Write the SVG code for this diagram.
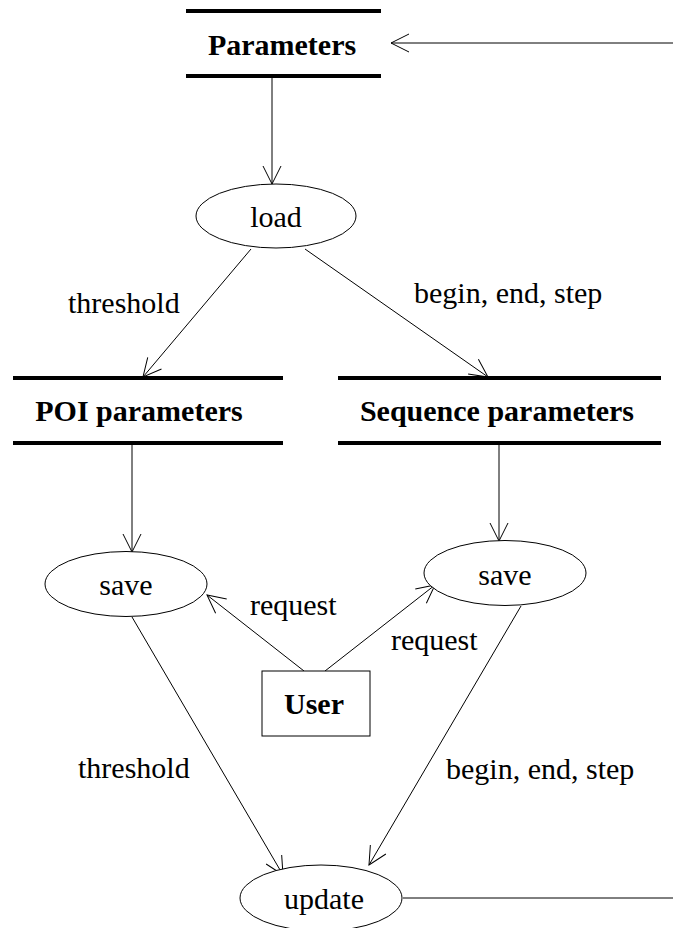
<svg xmlns="http://www.w3.org/2000/svg" width="673" height="928" viewBox="0 0 673 928">
<style>
text{font-family:"Liberation Serif","Times New Roman",serif;font-size:30px;fill:#000}
.b{font-weight:bold}
.m{text-anchor:middle}
.store{stroke:#000;stroke-width:4;fill:none}
.proc{fill:#fff;stroke:#000;stroke-width:1}
.c line,.c path{stroke:#000;stroke-width:1;fill:none}
.arr{marker-end:url(#ah)}
</style>
<defs>
<marker id="ah" markerUnits="userSpaceOnUse" markerWidth="20" markerHeight="20" refX="18" refY="10" orient="auto" overflow="visible">
<path d="M0,1 L18,10 L0,19" fill="none" stroke="#000" stroke-width="1"/>
</marker>
</defs>
<rect width="673" height="928" fill="#fff"/>
<g class="c" id="connectors">
<line class="arr" x1="673" y1="43" x2="391" y2="43"/>
<line class="arr" x1="272" y1="78" x2="272" y2="184"/>
<line class="arr" x1="251" y1="249" x2="143" y2="377"/>
<line class="arr" x1="305" y1="249" x2="488" y2="377"/>
<line class="arr" x1="132" y1="445" x2="132" y2="552"/>
<line class="arr" x1="499" y1="445" x2="499" y2="541"/>
<line class="arr" x1="304" y1="671" x2="207" y2="595"/>
<line class="arr" x1="325" y1="671" x2="435" y2="585"/>
<line class="arr" x1="132" y1="617" x2="283" y2="875"/>
<line class="arr" x1="521" y1="606" x2="369" y2="865"/>
<line x1="403" y1="898" x2="673" y2="898"/>
</g>
<g id="labels">
<text x="68" y="313">threshold</text>
<text x="414" y="303">begin, end, step</text>
<text x="250" y="615">request</text>
<text x="391" y="650">request</text>
<text x="78" y="778">threshold</text>
<text x="446" y="779">begin, end, step</text>
</g>
<g id="parameters">
<line class="store" x1="186" y1="11" x2="381" y2="11"/>
<line class="store" x1="186" y1="76" x2="381" y2="76"/>
<text class="b m" x="282" y="55">Parameters</text>
</g>
<g id="load">
<ellipse class="proc" cx="276" cy="216" rx="80" ry="32"/>
<text class="m" x="276" y="227">load</text>
</g>
<g id="poi-parameters">
<line class="store" x1="13" y1="378" x2="283" y2="378"/>
<line class="store" x1="13" y1="443" x2="283" y2="443"/>
<text class="b m" x="139" y="421">POI parameters</text>
</g>
<g id="sequence-parameters">
<line class="store" x1="338" y1="378" x2="661" y2="378"/>
<line class="store" x1="338" y1="443" x2="661" y2="443"/>
<text class="b m" x="497" y="421">Sequence parameters</text>
</g>
<g id="save-poi">
<ellipse class="proc" cx="126" cy="584" rx="81" ry="32.5"/>
<text class="m" x="126" y="595">save</text>
</g>
<g id="save-sequence">
<ellipse class="proc" cx="505" cy="573" rx="81" ry="32.5"/>
<text class="m" x="505" y="585">save</text>
</g>
<g id="user">
<rect class="proc" x="262" y="671" width="108" height="65"/>
<text class="b m" x="314" y="714">User</text>
</g>
<g id="update">
<ellipse class="proc" cx="321" cy="898" rx="81" ry="33"/>
<text class="m" x="324" y="909">update</text>
</g>
</svg>
